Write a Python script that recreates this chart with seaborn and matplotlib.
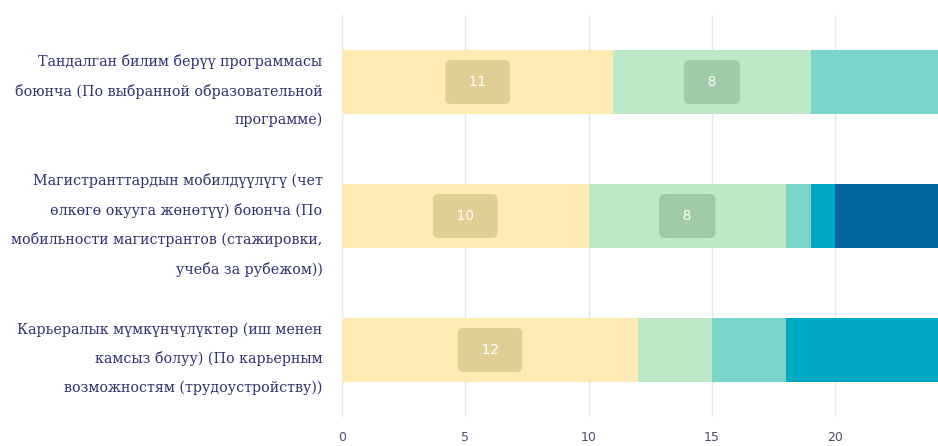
import numpy as np
import pandas as pd
import matplotlib
matplotlib.use("Agg")
import matplotlib.pyplot as plt
import seaborn as sns

# data
keys = ["prog", "mob", "career"]
labels = [
    "Тандалган билим берүү программасы\nбоюнча (По выбранной образовательной\nпрограмме)",
    "Магистранттардын мобилдүүлүгү (чет\nөлкөгө окууга жөнөтүү) боюнча (По\nмобильности магистрантов (стажировки,\nучеба за рубежом))",
    "Карьералык мүмкүнчүлүктөр (иш менен\nкамсыз болуу) (По карьерным\nвозможностям (трудоустройству))",
]
seg1 = [11, 10, 12]
seg2 = [8, 8, 3]
seg3 = [6, 1, 3]
seg4 = [0, 1, 7]
seg5 = [0, 5, 0]
x_ticks = [0, 5, 10, 15, 20]

seg_colors = ["#feebb3", "#bde9c9", "#79d4c9", "#00a9c4", "#01669d"]
box_colors = ["#e0cf94", "#a0cba9", "#62b0a6", "#008ca2", "#01507b"]
label_min = 8

df = pd.DataFrame({"key": keys, "s1": seg1, "s2": seg2, "s3": seg3, "s4": seg4, "s5": seg5})
segs = ["s1", "s2", "s3", "s4", "s5"]
cum = df[segs].cumsum(axis=1)

sns.set_style("white")
fig = plt.figure(figsize=(9.38, 4.46), dpi=100)
ax = fig.add_axes([342 / 938, 1 - 417 / 446, 1 - 342 / 938, (417 - 15) / 446])

# stacked bars: draw cumulative totals from the back
for i in range(len(segs) - 1, -1, -1):
    sns.barplot(x=cum[segs[i]], y=df["key"], orient="h", color=seg_colors[i],
                saturation=1, width=0.485, ax=ax, linewidth=0)

# value labels
for r, key in enumerate(keys):
    left = 0
    for i, s in enumerate(segs):
        v = df.loc[r, s]
        if v >= label_min:
            ax.text(left + v / 2, r, "  " + str(v) + "  ", ha="center", va="center",
                    color="white", fontsize=9.8, family="DejaVu Sans",
                    bbox=dict(boxstyle="round,pad=1.1,rounding_size=0.4",
                              fc=box_colors[i], ec="none"))
        left += v

ax.set_xlim(0, 24.17)
ax.set_ylim(2.5, -0.5)
ax.set_xticks(x_ticks)
ax.set_xticklabels([str(t) for t in x_ticks])
ax.set_yticks(range(len(keys)))
ax.set_yticklabels(labels)
ax.set_xlabel("")
ax.set_ylabel("")

for t in ax.get_yticklabels():
    t.set_multialignment("right")
    t.set_linespacing(2.22)
    t.set_family("DejaVu Serif")
    t.set_fontsize(10.3)
    t.set_color("#2f2f72")
for t in ax.get_xticklabels():
    t.set_fontsize(9)
    t.set_color("#4d4d6b")

ax.tick_params(axis="x", length=0, pad=10)
ax.tick_params(axis="y", length=0, pad=14)
for side in ["top", "right", "bottom", "left"]:
    ax.spines[side].set_visible(False)

ax.set_axisbelow(True)
ax.grid(axis="x", color="#e6e6ee", linewidth=1)
ax.grid(axis="y", visible=False)
ax.axvline(0, color="#d3daee", linewidth=1.6, zorder=0.5)

fig.savefig("out.png", dpi=100)
